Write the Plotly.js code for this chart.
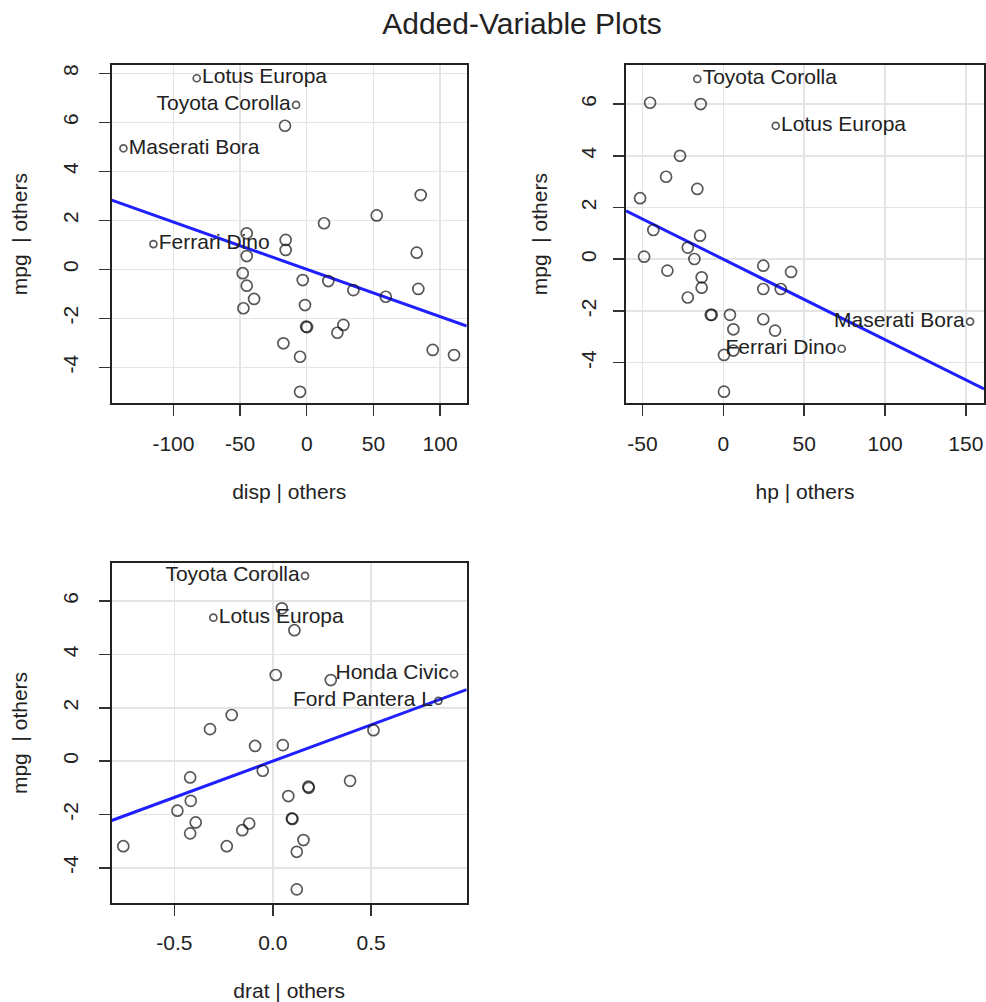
<!DOCTYPE html>
<html>
<head>
<meta charset="utf-8">
<script src="https://cdn.plot.ly/plotly-3.0.1.min.js"></script>
<style>
html,body{margin:0;padding:0;background:#fff;}
#chart{width:986px;height:1002px;}
</style>
</head>
<body>
<div id="chart"></div>
<script>
// ---- Panel 1: disp | others ----
const dispX = [-82.5, -8, -16.3, -137.5, 85.5, 52.5, 13, -115, -45, -15.8, -15.8, -45, 82.5, -48, -45, -3, 16.2, 35, 59.3, 83.7, -39.5, -47.5, -1.3, -0.5, 0.3, 27.5, 23, -17.5, -5, 94.5, 110.5, -5];
const dispY = [7.8, 6.71, 5.86, 4.94, 3.03, 2.2, 1.88, 1.03, 1.47, 1.2, 0.79, 0.54, 0.68, -0.16, -0.67, -0.44, -0.48, -0.85, -1.12, -0.8, -1.21, -1.59, -1.46, -2.34, -2.36, -2.27, -2.59, -3.02, -3.57, -3.29, -3.5, -5.0];
const dispNames = ["Lotus Europa", "Toyota Corolla", "", "Maserati Bora", "", "", "", "Ferrari Dino", "", "", "", "", "", "", "", "", "", "", "", "", "", "", "", "", "", "", "", "", "", "", "", ""];
const dispSlope = -0.0193;
const dispTicks = [-100, -50, 0, 50, 100];
const dispTickText = ["-100", "-50", "0", "50", "100"];

// ---- Panel 2: hp | others ----
const hpX = [-16.1, -45.3, -14, 32.4, -26.8, -35.4, -16.1, -51.5, -43.3, -14.4, -22, -17.9, -49, -34.6, 24.7, 41.9, -13.4, -13.4, 24.7, 35.5, -22, -7.8, -7.2, 4.1, 24.7, 6.2, 32, 152.6, 73.2, 0.4, 6.2, 0.4];
const hpY = [6.97, 6.05, 6.0, 5.16, 4.0, 3.19, 2.72, 2.36, 1.13, 0.91, 0.45, 0.01, 0.1, -0.44, -0.25, -0.49, -0.7, -1.1, -1.15, -1.15, -1.48, -2.15, -2.15, -2.15, -2.32, -2.71, -2.76, -2.41, -3.46, -3.7, -3.53, -5.12];
const hpNames = ["Toyota Corolla", "", "", "Lotus Europa", "", "", "", "", "", "", "", "", "", "", "", "", "", "", "", "", "", "", "", "", "", "", "", "Maserati Bora", "Ferrari Dino", "", "", ""];
const hpSlope = -0.0311;
const hpTicks = [-50, 0, 50, 100, 150];
const hpTickText = ["-50", "0", "50", "100", "150"];

// ---- Panel 3: drat | others ----
const dratX = [0.164, 0.046, -0.302, 0.11, 0.015, 0.295, 0.922, 0.842, -0.209, -0.319, 0.512, -0.09, 0.051, -0.051, -0.42, 0.393, 0.181, 0.183, 0.079, -0.417, -0.485, 0.097, 0.1, -0.392, -0.12, -0.155, -0.42, 0.156, -0.76, -0.234, 0.122, 0.122];
const dratY = [6.95, 5.73, 5.38, 4.91, 3.23, 3.04, 3.26, 2.26, 1.73, 1.2, 1.16, 0.57, 0.6, -0.36, -0.61, -0.74, -0.96, -1.0, -1.31, -1.49, -1.86, -2.15, -2.17, -2.3, -2.34, -2.59, -2.71, -2.96, -3.19, -3.19, -3.4, -4.81];
const dratNames = ["Toyota Corolla", "", "Lotus Europa", "", "", "", "Honda Civic", "Ford Pantera L", "", "", "", "", "", "", "", "", "", "", "", "", "", "", "", "", "", "", "", "", "", "", "", ""];
const dratSlope = 2.72;
const dratTicks = [-0.5, 0, 0.5];
const dratTickText = ["-0.5", "0.0", "0.5"];

const yTicks1 = [-4, -2, 0, 2, 4, 6, 8];
const yTickText1 = ["-4", "-2", "0", "2", "4", "6", "8"];
const yTicks23 = [-4, -2, 0, 2, 4, 6];
const yTickText23 = ["-4", "-2", "0", "2", "4", "6"];

// Which labels sit to the left of their point (others go right)
const leftLabels = {
  disp: ["Toyota Corolla"],
  hp: ["Maserati Bora", "Ferrari Dino"],
  drat: ["Toyota Corolla", "Honda Civic", "Ford Pantera L"]
};

const FONT = "Liberation Sans, Arial, Helvetica, sans-serif";
const TXT = "#222";

// ranges (axis extents)
const ranges = {
  disp: {x: [-146.3, 120], y: [-5.47, 8.34]},
  hp: {x: [-60.2, 161.2], y: [-5.57, 7.51]},
  drat: {x: [-0.819, 0.986], y: [-5.31, 7.42]}
};

function pointTrace(xs, ys, names, key, xa, ya) {
  return {
    type: "scatter", mode: "markers+text",
    x: xs, y: ys, text: names,
    xaxis: xa, yaxis: ya,
    textposition: names.map(n => leftLabels[key].includes(n) ? "middle left" : "middle right"),
    textfont: {family: FONT, size: 21, color: TXT},
    marker: {
      symbol: "circle-open",
      size: names.map(n => n ? 7 : 11),
      color: "#111",
      line: {width: 1.7, color: "#111"}
    },
    cliponaxis: false,
    hoverinfo: "x+y+text",
    showlegend: false
  };
}
function lineTrace(slope, key, xa, ya) {
  const xr = ranges[key].x;
  return {
    type: "scatter", mode: "lines",
    x: xr, y: xr.map(v => v * slope),
    xaxis: xa, yaxis: ya,
    line: {color: "#1f1fff", width: 3},
    hoverinfo: "skip", showlegend: false
  };
}

const data = [
  lineTrace(dispSlope, "disp", "x", "y"),
  pointTrace(dispX, dispY, dispNames, "disp", "x", "y"),
  lineTrace(hpSlope, "hp", "x2", "y2"),
  pointTrace(hpX, hpY, hpNames, "hp", "x2", "y2"),
  lineTrace(dratSlope, "drat", "x3", "y3"),
  pointTrace(dratX, dratY, dratNames, "drat", "x3", "y3")
];

const W = 986, H = 1002;
function xdom(l, r) { return [l / W, r / W]; }
function ydom(t, b) { return [1 - b / H, 1 - t / H]; }

function xAxis(dom, key, ticks, ticktext, title, anchor) {
  return {
    domain: dom, range: ranges[key].x, anchor: anchor,
    tickmode: "array", tickvals: ticks, ticktext: ticktext,
    ticks: "outside", ticklen: 11, tickwidth: 1.5, tickcolor: "#333",
    ticklabelstandoff: 9,
    showline: true, mirror: true, linecolor: "#222", linewidth: 2,
    showgrid: true, gridcolor: "#e4e4e4", gridwidth: 1.5, zeroline: false,
    tickfont: {family: FONT, size: 21, color: TXT},
    title: {text: title, font: {family: FONT, size: 21, color: TXT}, standoff: 31}
  };
}
function yAxis(dom, key, ticks, ticktext, anchor, labStandoff, titleStandoff) {
  return {
    domain: dom, range: ranges[key].y, anchor: anchor,
    tickmode: "array", tickvals: ticks, ticktext: ticktext, tickangle: -90,
    ticks: "outside", ticklen: 11, tickwidth: 1.5, tickcolor: "#333",
    ticklabelstandoff: labStandoff,
    showline: true, mirror: true, linecolor: "#222", linewidth: 2,
    showgrid: true, gridcolor: "#e4e4e4", gridwidth: 1.5, zeroline: false,
    tickfont: {family: FONT, size: 21, color: TXT},
    title: {text: "mpg \u00a0| others", font: {family: FONT, size: 21, color: TXT}, standoff: titleStandoff}
  };
}

const layout = {
  width: W, height: H,
  margin: {l: 0, r: 0, t: 0, b: 0},
  paper_bgcolor: "#fff", plot_bgcolor: "#fff",
  title: {text: "Added-Variable Plots", font: {family: FONT, size: 30, color: TXT}, x: 522 / W, xanchor: "center", y: 1 - 23 / H, yanchor: "middle"},
  xaxis: xAxis(xdom(111.7, 466.7), "disp", dispTicks, dispTickText, "disp | others", "y"),
  yaxis: yAxis(ydom(65, 403.3), "disp", yTicks1, yTickText1, "x", 12, 26),
  xaxis2: xAxis(xdom(626, 984), "hp", hpTicks, hpTickText, "hp | others", "y2"),
  yaxis2: yAxis(ydom(65, 403.3), "hp", yTicks23, yTickText23, "x2", 9, 23),
  xaxis3: xAxis(xdom(111.7, 466.7), "drat", dratTicks, dratTickText, "drat | others", "y3"),
  yaxis3: yAxis(ydom(563.3, 902.7), "drat", yTicks23, yTickText23, "x3", 12, 26),
  showlegend: false
};

Plotly.newPlot("chart", data, layout, {displayModeBar: false, staticPlot: true});
</script>
</body>
</html>
